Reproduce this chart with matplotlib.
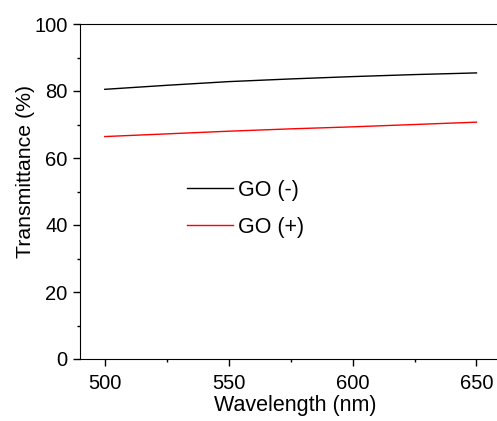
import matplotlib
matplotlib.use("Agg")
import matplotlib.pyplot as plt
from matplotlib.ticker import MultipleLocator

plt.rcParams['font.family'] = ['Liberation Sans', 'DejaVu Sans']

wavelength = [500, 525, 550, 575, 600, 625, 650]
go_minus = [80.5, 81.7, 82.8, 83.6, 84.3, 84.9, 85.4]
go_plus = [66.4, 67.2, 68.0, 68.7, 69.3, 70.0, 70.7]
labels = ["GO (-)", "GO (+)"]

fig = plt.figure(figsize=(4.97, 4.21), dpi=100)
ax = fig.add_axes([80/497, 1-359/421, 420/497, 335/421])
ax.plot(wavelength, go_minus, color='black', lw=1.0, label=labels[0])
ax.plot(wavelength, go_plus, color='red', lw=1.0, label=labels[1])
ax.set_xlim(490, 659.5)
ax.set_ylim(0, 100)
ax.xaxis.set_major_locator(MultipleLocator(50))
ax.xaxis.set_minor_locator(MultipleLocator(25))
ax.yaxis.set_major_locator(MultipleLocator(20))
ax.yaxis.set_minor_locator(MultipleLocator(10))
ax.tick_params(which='both', direction='out', labelsize=14.5, width=1, pad=4)
ax.tick_params(axis='x', which='both', pad=5.5)
ax.tick_params(which='major', length=5)
ax.tick_params(which='minor', length=2.5)
ax.spines['right'].set_visible(False)
ax.set_xlabel("Wavelength (nm)", fontsize=15.5)
ax.set_ylabel("Transmittance (%)", fontsize=15.3)
ax.xaxis.set_label_coords(0.513, -0.107)
ax.yaxis.set_label_coords(-0.108, 0.561)
ax.legend(loc='upper left', bbox_to_anchor=(107/420, (359-180)/335), frameon=False,
          fontsize=15.5, borderpad=0, borderaxespad=0,
          handlelength=2.14, handletextpad=0.25, labelspacing=0.74)
fig.savefig("out.png", dpi=100)
